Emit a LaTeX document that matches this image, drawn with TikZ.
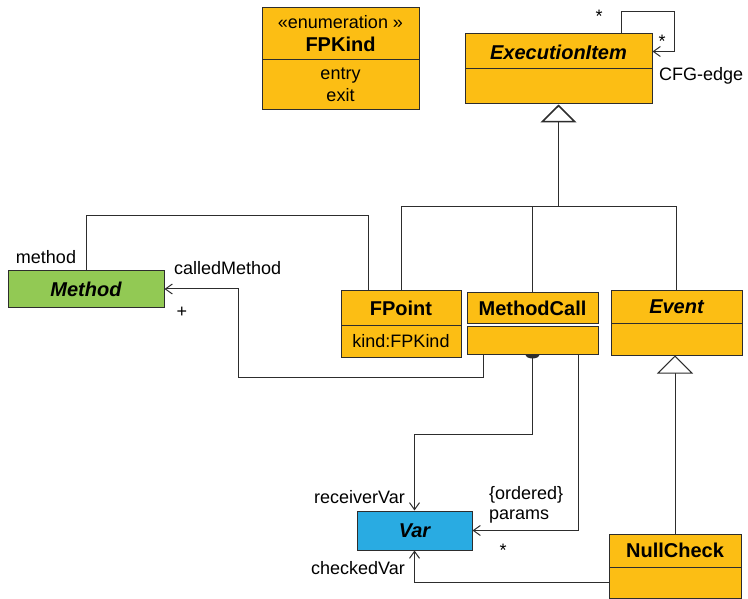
\documentclass[tikz,border=0pt]{standalone}
\usepackage{fontspec}
\setmainfont{Liberation Sans}
\usetikzlibrary{arrows.meta}
\definecolor{umlorange}{RGB}{252,190,20}
\definecolor{umlgreen}{RGB}{146,201,84}
\definecolor{umlblue}{RGB}{41,171,226}
\definecolor{edgecol}{RGB}{45,45,45}
\newcommand{\lblfont}{\fontsize{18}{22}\selectfont}
\newcommand{\ttlfont}{\fontsize{20}{24}\selectfont\bfseries}
\tikzset{
  classbox/.style={draw=edgecol, line width=1pt, fill=umlorange, inner sep=0pt, text depth=0pt, font=\ttlfont},
  bodybox/.style={draw=edgecol, line width=1pt, fill=umlorange, inner sep=0pt, font=\lblfont},
  lbl/.style={inner sep=0pt, font=\lblfont},
  link/.style={draw=edgecol, line width=1pt},
  nav/.style={link, -{Straight Barb[length=7pt,width=10pt]}},
  inherit/.style={link, -{Triangle[length=18pt,width=36pt,fill=white]}}
}
\begin{document}
\begin{tikzpicture}[x=1pt,y=-1pt]
\useasboundingbox (0,0) rectangle (748,599);

% enumeration FPKind
\node[classbox, text depth=, minimum width=157pt, minimum height=52pt, align=center] (fpkind) at (340.5,34)
  {{\mdseries\lblfont «enumeration »}\\[-1pt]FPKind};
\node[bodybox, minimum width=157pt, minimum height=50pt, align=center] (fpkindb) at (340.5,85)
  {entry\\exit};

% ExecutionItem
\node[classbox, minimum width=187pt, minimum height=35pt, font=\ttlfont\itshape] (exec) at (558.5,51.5) {\raisebox{-2pt}{ExecutionItem}};
\node[bodybox, minimum width=187pt, minimum height=35pt] (execb) at (558.5,86.5) {};

% Method
\node[classbox, fill=umlgreen, minimum width=156pt, minimum height=36pt, font=\ttlfont\itshape] (method) at (86,289) {Method};

% FPoint
\node[classbox, minimum width=120pt, minimum height=34pt] (fpoint) at (401,308) {FPoint};
\node[bodybox, minimum width=120pt, minimum height=32pt] (fpointb) at (401,341) {kind:FPKind};

% MethodCall
\node[classbox, minimum width=131pt, minimum height=30pt] (mcall) at (532.5,308) {MethodCall};
\node[bodybox, minimum width=131pt, minimum height=28pt] (mcallb) at (532.5,340) {};

% Event
\node[classbox, minimum width=131pt, minimum height=32pt, font=\ttlfont\itshape] (event) at (676.5,307) {Event};
\node[bodybox, minimum width=131pt, minimum height=32pt] (eventb) at (676.5,339) {};

% Var
\node[classbox, fill=umlblue, minimum width=115pt, minimum height=39pt, font=\ttlfont\itshape] (var) at (414.5,530.5) {Var};

% NullCheck
\node[classbox, minimum width=132pt, minimum height=33pt] (nullc) at (675,550.5) {NullCheck};
\node[bodybox, minimum width=132pt, minimum height=31pt] (nullcb) at (675,582.5) {};

% generalisation tree towards ExecutionItem
\coordinate (gen) at (558.5,207);
\draw[link] (fpoint.north) |- (gen);
\draw[link] (mcall.north) |- (gen);
\draw[link] (event.north) |- (gen);
\draw[inherit, line width=1.6pt] (gen) -- (execb.south);

% NullCheck specialises Event
\draw[inherit] (nullc.north) -- (nullc.north |- eventb.south);

% CFG-edge self association
\coordinate (loop) at (674,12);
\draw[nav] ([xshift=-31pt]exec.north east) |- (loop) |- (exec.east);
\node[lbl] (m1) at (599,16) {*};
\node[lbl] (m2) at (662,41) {*};
\node[lbl, anchor=west] (cfg) at (659,76) {CFG-edge};

% method: FPoint -- Method
\draw[link] ([xshift=-33pt]fpoint.north) -- ++(0,-75) -| (method.north);
\node[lbl] (lmethod) at (46,257) {method};

% calledMethod: MethodCall -> Method
\coordinate (cm) at (238,377);
\draw[nav] ([xshift=17pt]mcallb.south west) |- (cm) |- (method.east);
\node[lbl, anchor=west] (lcalled) at (174,268) {calledMethod};
\node[lbl] (plus) at (182,312) {+};

% receiverVar: MethodCall -> Var
\fill[edgecol] ([xshift=-7pt]mcallb.south) arc[start angle=180, end angle=360, x radius=7pt, y radius=4pt] -- cycle;
\draw[nav] (mcallb.south) -- ++(0,80) -| (var.north);
\node[lbl, anchor=east] (lrecv) at (405,497) {receiverVar};

% params: MethodCall -> Var
\draw[nav] ([xshift=-20pt]mcallb.south east) |- (var.east);
\node[lbl, anchor=west] (lord) at (489,495) {\{ordered\}};
\node[lbl, anchor=west] (lparams) at (489,517) {params};
\node[lbl] (m3) at (503,550) {*};

% checkedVar: NullCheck -> Var
\draw[nav] (nullcb.west) -| (var.south);
\node[lbl, anchor=east] (lchecked) at (405,568) {checkedVar};
\end{tikzpicture}
\end{document}
